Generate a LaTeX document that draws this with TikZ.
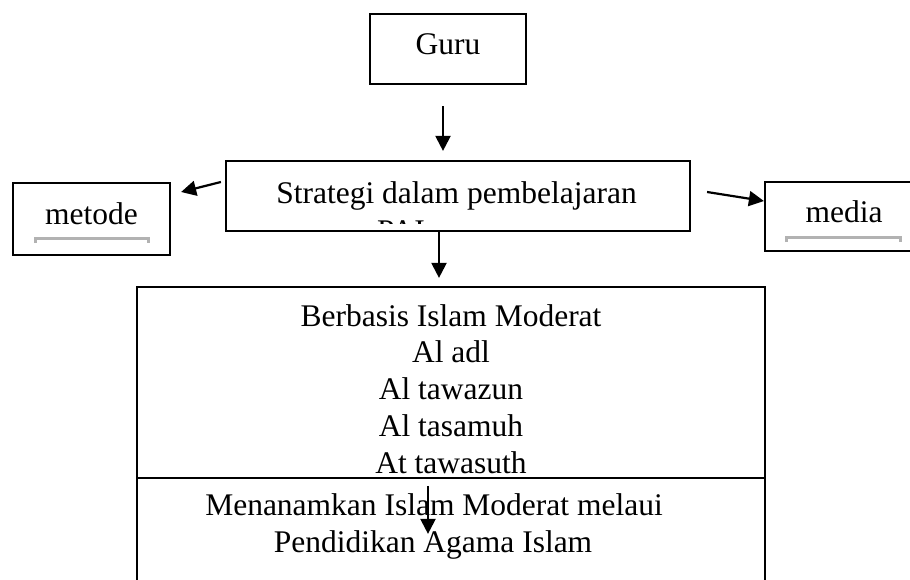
\documentclass[tikz,border=0pt]{standalone}
\usepackage{fontspec}
\setmainfont{Liberation Serif}
\usetikzlibrary{arrows.meta, calc}

\tikzset{
  kotak/.style={draw, line width=2.2pt, inner sep=0pt, text height=21pt, text depth=10pt},
  teks/.style={anchor=base, inner sep=0pt},
  garis/.style={draw=gray!60, line width=3pt},
}

\begin{document}
\begin{tikzpicture}[>={Triangle[length=15pt,width=15pt]}, x=1pt, y=-1pt, line width=2.2pt, font=\fontsize{31.5pt}{36.75pt}\selectfont]
  \useasboundingbox (0,0) rectangle (910,579);
  \clip (0,0) rectangle (910,579);
  % kotak-kotak
  \node[kotak, minimum width=156pt, minimum height=70pt] (guru) at (448,49) {Guru};
  \node[kotak, minimum width=464pt, minimum height=70pt] (strategi) at (458,196) {};
  \node[teks] (strategitxt) at (456.5,203) {Strategi dalam pembelajaran};
  \begin{scope} %baris kedua terpotong
    \clip (300,217.5) rectangle (500,223);
    \node[teks] (pai) at (401,241) {PAI};
  \end{scope}
  \node[kotak, minimum width=157pt, minimum height=72pt] (metode) at (91.5,219) {metode};
  \node[kotak, minimum width=158pt, minimum height=69pt] (media) at (844,216.5) {media};
  \draw[garis] ($(metode.center)+(-56.5,24)$) -- ++(0,-5) -- ++(113,0) -- ++(0,5);
  \draw[garis] ($(media.center)+(-58,25.5)$) -- ++(0,-5) -- ++(114,0) -- ++(0,5);
  \node[kotak, minimum width=628pt, minimum height=191pt] (moderat) at (451,382.5) {};
  \node[kotak, minimum width=628pt, minimum height=122pt] (menanam) at (451,539) {};
  % isi kotak
  \foreach \t [count=\i from 0] in {Berbasis Islam Moderat, Al adl, Al tawazun, Al tasamuh, At tawasuth}
    \node[teks] (mod\i) at (451,326+36.75*\i) {\t};
  \node[teks] (menanam1) at (434,515) {Menanamkan Islam Moderat melaui};
  \node[teks] (menanam2) at (433,552) {Pendidikan Agama Islam};
  % panah
  \draw[->] ($(guru.south)+(-5,21)$) -- ($(strategi.north)+(-15,-9)$);
  \draw[->] ($(strategi.west)+(-4,-14)$) -- ($(metode.east)+(10,-27)$);
  \draw[->] ($(strategi.east)+(16,-4)$) -- ($(media.west)+(0,-15.5)$);
  \draw[->] ($(strategi.south)+(-19,0)$) -- ($(moderat.north)+(-12,-8)$);
  \draw[->] ($(menanam.north)+(-23,9)$) -- ($(menanam.north)+(-23,57)$);
\end{tikzpicture}
\end{document}
